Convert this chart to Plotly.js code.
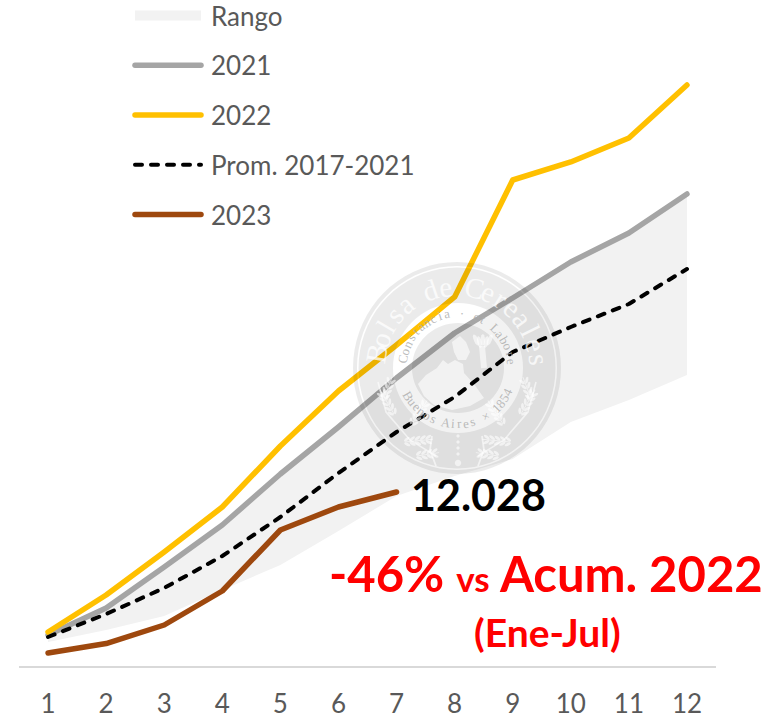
<!DOCTYPE html>
<html><head><meta charset="utf-8">
<script src="https://cdn.plot.ly/plotly-3.0.1.min.js"></script>
<style>
html,body{margin:0;padding:0;background:#fff}
#c{width:783px;height:720px}
.js-line{stroke-linecap:round;stroke-linejoin:round}
.legend .groups:first-child .js-line{stroke-linecap:butt}
.legendtext{transform:translateX(5px)}
</style></head><body><div id="c"></div>
<script>
const months=[1,2,3,4,5,6,7,8,9,10,11,12];
const monthsYtd=[1,2,3,4,5,6,7];
const rangeLow=[1659,2489,3456,5254,6982,9332,11752,13135,14310,16867,18389,20117];
const rangeHigh=[2350,4010,6844,9747,13273,16522,19909,23020,25440,27928,29933,32629];
const s2021=[2143,4010,6844,9747,13273,16522,19909,23020,25440,27928,29933,32629];
const s2022=[2350,4908,7881,10992,15209,19011,22191,25509,33597,34842,36501,40165];
const prom=[2005,3595,5392,7604,10300,13342,16176,18596,21707,23435,25025,27444];
const s2023=[899,1555,2834,5185,9402,10992,12028];
const tickLabels=months.map(String);

const L=19,R=716,H=666;
const fx=x=>(x-L)/(R-L), fy=y=>1-y/H;
const FONT='Lato, Carlito, Calibri, sans-serif';
const GR='#595959';

/* ---- watermark seal (decoration) ---- */
const CX=457,CY=368;
const DARK='rgba(0,0,0,0.08)',LIGHT='rgba(255,255,255,0.6)';
const shapes=[];
function poly(pts){return 'M'+pts.map(p=>fx(p[0]).toFixed(5)+','+fy(p[1]).toFixed(5)).join('L')+'Z';}
function circ(cx,cy,r,ry){const a=[];for(let i=0;i<72;i++){const t=i*Math.PI/36;a.push([cx+r*Math.cos(t),cy+(ry||r)*Math.sin(t)]);}return poly(a);}
function addShape(path,color){shapes.push({type:'path',xref:'paper',yref:'paper',path,fillcolor:color,line:{width:0},layer:'above'});}
function ellipse(cx,cy,a,b,ang){const p=[],c=Math.cos(ang),s=Math.sin(ang);for(let i=0;i<14;i++){const t=i*Math.PI/7,u=a*Math.cos(t),v=b*Math.sin(t);p.push([cx+u*c-v*s,cy+u*s+v*c]);}return poly(p);}
function stroke(pts,w,color){const l=[],r=[];pts.forEach((p,i)=>{const q=pts[Math.min(i+1,pts.length-1)],o=pts[Math.max(i-1,0)];let dx=q[0]-o[0],dy=q[1]-o[1],n=Math.hypot(dx,dy)||1;dx/=n;dy/=n;l.push([p[0]-dy*w/2,p[1]+dx*w/2]);r.unshift([p[0]+dy*w/2,p[1]-dx*w/2]);});addShape(poly(l.concat(r)),color);}
addShape(circ(CX,CY,104,106)+circ(CX,CY,100,102)+circ(CX,CY,98.5,100.5)+circ(CX+1,CY,65,65),DARK);
const bust=poly([[418,384],[426,375],[437,368],[443,360],[448,364],[455,360],[463,364],[464,373],[474,384],[484,398],[470,406],[452,410],[434,405],[424,396]]);
const face=poly([[452,342],[460,336],[466,342],[470,352],[466,360],[458,360],[454,352]]);
addShape(circ(CX+1,CY,46,45)+bust+face,DARK);
for(let i=0;i<5;i++){addShape(ellipse(476+i*3.4,340+(i%2)*2,2.2,6,0.2*(i-2)),LIGHT);}
stroke([[482,346],[484,368]],6,LIGHT);
function ear(x0,y0,ang,n){const dx=Math.cos(ang),dy=Math.sin(ang);stroke([[x0,y0],[x0+dx*(n*5.6),y0+dy*(n*5.6)]],0.9,LIGHT);
 for(let i=0;i<n;i++){const px=x0+dx*i*5.4,py=y0+dy*i*5.4;
  addShape(ellipse(px-dy*2.6+dx*2,py+dx*2.6+dy*2,3.4,1.4,ang+0.55),LIGHT);
  addShape(ellipse(px+dy*2.6+dx*2,py-dx*2.6+dy*2,3.4,1.4,ang-0.55),LIGHT);}}
const E=[[394,414,-2.1,5],[412,424,-1.0,5],[384,398,-1.2,4],[405,442,-0.1,5],[417,456,-0.15,4]];
E.forEach(e=>{ear(e[0],e[1],e[2],e[3]);ear(2*CX+1-e[0],e[1],Math.PI-e[2],e[3]);});
stroke([[378,382],[386,412],[410,440],[436,456]],1.6,LIGHT);
stroke([[536,382],[528,412],[504,440],[478,456]],1.6,LIGHT);
stroke([[432,436],[430,450],[436,466]],1.8,LIGHT);
stroke([[482,436],[484,450],[478,466]],1.8,LIGHT);
[436,442,448,454].forEach(y=>addShape(circ(458,y,1.6),LIGHT));
addShape(circ(458,463,3.2),LIGHT);

/* seal lettering */
const anns=[];
function arc(txt,r,a0,a1,size,color,bottom){const ch=[...txt];ch.forEach((c,i)=>{if(c===' ')return;const th=a0+(a1-a0)*i/(ch.length-1),t=th*Math.PI/180;
 anns.push({xref:'paper',yref:'paper',x:fx(CX+r*Math.sin(t)),y:fy(CY-r*Math.cos(t)),text:c,showarrow:false,xanchor:'center',yanchor:'middle',textangle:bottom?th-180:th,font:{family:'"Liberation Serif", serif',size,color}});});}
arc('Bolsa de Cereales',82,-80,84,29,'rgba(255,255,255,0.75)',false);
arc('Constancia · et Labore',55,-80,83,13,'rgba(170,170,170,0.8)',false);
arc('Buenos Aires × 1854',56,240,115,13,'rgba(170,170,170,0.8)',true);

/* chart labels */
anns.push({x:7,y:12028,xref:'x',yref:'y',text:'<b>12.028</b>',showarrow:false,xanchor:'left',yanchor:'middle',xshift:12,yshift:-2,font:{family:FONT,size:43,color:'#000'}});
anns.push({xref:'paper',yref:'paper',x:fx(546),y:fy(573),text:'<b>-46% <span style="font-size:35px">vs</span> Acum. 2022</b>',showarrow:false,xanchor:'center',yanchor:'middle',font:{family:FONT,size:49,color:'#ff0000'}});
anns.push({xref:'paper',yref:'paper',x:fx(547),y:fy(632),text:'<b>(Ene-Jul)</b>',showarrow:false,xanchor:'center',yanchor:'middle',font:{family:FONT,size:39,color:'#ff0000'}});

const traces=[
 {x:months,y:rangeLow,mode:'lines',line:{width:0},showlegend:false,hoverinfo:'skip'},
 {x:months,y:rangeHigh,mode:'lines',line:{width:0},fill:'tonexty',fillcolor:'#f2f2f2',showlegend:false,hoverinfo:'skip'},
 {x:[null],y:[null],mode:'lines',name:'Rango',legendgroup:'a',line:{width:16,color:'#f2f2f2'}},
 {x:months,y:s2021,mode:'lines',name:'2021',legendgroup:'b',line:{width:5.5,color:'#a5a5a5'}},
 {x:months,y:s2022,mode:'lines',name:'2022',legendgroup:'c',line:{width:5.5,color:'#ffc000'}},
 {x:months,y:prom,mode:'lines',name:'Prom. 2017-2021',legendgroup:'d',line:{width:4,color:'#000',dash:'7px,9px'}},
 {x:monthsYtd,y:s2023,mode:'lines',name:'2023',legendgroup:'e',line:{width:5.5,color:'#9e480e'}}
];
const layout={
 width:783,height:720,margin:{l:L,r:783-R,t:0,b:720-H,pad:0,autoexpand:false},
 paper_bgcolor:'#fff',plot_bgcolor:'#fff',showlegend:true,
 font:{family:FONT,color:GR,size:26},
 xaxis:{range:[0.5,12.5],tickmode:'array',tickvals:months,ticktext:tickLabels,showgrid:false,zeroline:false,showline:true,linecolor:'#d9d9d9',linewidth:2,ticks:'',ticklabelstandoff:14,tickfont:{family:FONT,size:26,color:GR},fixedrange:true},
 yaxis:{range:[0,46040],visible:false,fixedrange:true},
 legend:{x:fx(130),y:fy(-8),xanchor:'left',yanchor:'top',bgcolor:'rgba(0,0,0,0)',font:{family:FONT,size:26,color:GR},itemwidth:66,tracegroupgap:13,traceorder:'grouped'},
 shapes,annotations:anns
};
Plotly.newPlot('c',traces,layout,{staticPlot:true,displayModeBar:false});
</script></body></html>
